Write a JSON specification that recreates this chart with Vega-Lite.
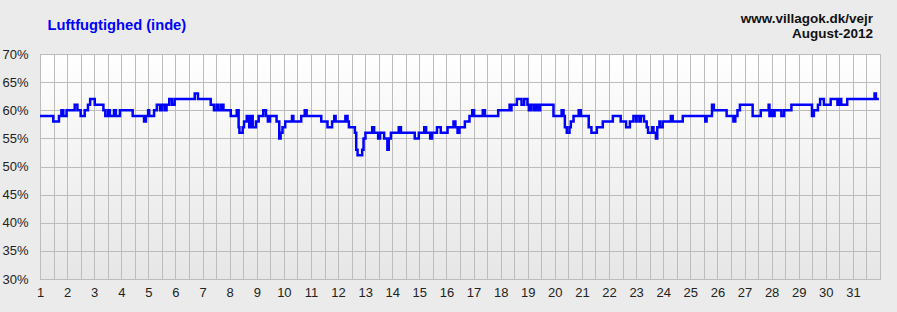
{
  "$schema": "https://vega.github.io/schema/vega-lite/v6.json",
  "width": 840,
  "height": 225,
  "autosize": {"type": "none"},
  "padding": {"left": 40, "top": 54, "right": 17, "bottom": 33},
  "background": "#ebebeb",
  "config": {
    "font": "Liberation Sans",
    "view": {
      "stroke": "#9a9a9a",
      "strokeWidth": 1,
      "fill": {"gradient": "linear", "x1": 0, "y1": 0, "x2": 0, "y2": 1, "stops": [{"offset": 0, "color": "#ffffff"}, {"offset": 1, "color": "#e6e6e6"}]}
    },
    "axis": {
      "title": null, "grid": true, "gridColor": "#bcbcbc", "gridWidth": 1, "gridOpacity": 1,
      "ticks": false, "domain": false, "labelFontSize": 13, "labelColor": "#222222",
      "labelOverlap": false, "labelFlush": false, "labelBound": false
    },
    "axisX": {"labelPadding": 7},
    "axisY": {"labelPadding": 12}
  },
  "layer": [
    {
      "data": {"values": [
        {"day": 1.00, "humidity": 59}, {"day": 1.49, "humidity": 58}, {"day": 1.70, "humidity": 59}, {"day": 1.79, "humidity": 60}, {"day": 1.86, "humidity": 59}, {"day": 1.98, "humidity": 60}, {"day": 2.28, "humidity": 61}, {"day": 2.38, "humidity": 60}, {"day": 2.50, "humidity": 59}, {"day": 2.65, "humidity": 60}, {"day": 2.77, "humidity": 61}, {"day": 2.85, "humidity": 62}, {"day": 3.02, "humidity": 61}, {"day": 3.34, "humidity": 60}, {"day": 3.41, "humidity": 59}, {"day": 3.51, "humidity": 60}, {"day": 3.58, "humidity": 59}, {"day": 3.73, "humidity": 60}, {"day": 3.80, "humidity": 59}, {"day": 3.95, "humidity": 60}, {"day": 4.42, "humidity": 59}, {"day": 4.84, "humidity": 58}, {"day": 4.91, "humidity": 59}, {"day": 4.99, "humidity": 60}, {"day": 5.03, "humidity": 59}, {"day": 5.21, "humidity": 60}, {"day": 5.31, "humidity": 61}, {"day": 5.43, "humidity": 60}, {"day": 5.50, "humidity": 61}, {"day": 5.60, "humidity": 60}, {"day": 5.67, "humidity": 61}, {"day": 5.77, "humidity": 62}, {"day": 5.87, "humidity": 61}, {"day": 5.97, "humidity": 62}, {"day": 6.71, "humidity": 63}, {"day": 6.83, "humidity": 62}, {"day": 7.30, "humidity": 61}, {"day": 7.42, "humidity": 60}, {"day": 7.52, "humidity": 61}, {"day": 7.59, "humidity": 60}, {"day": 7.69, "humidity": 61}, {"day": 7.77, "humidity": 60}, {"day": 8.04, "humidity": 59}, {"day": 8.26, "humidity": 60}, {"day": 8.33, "humidity": 57}, {"day": 8.36, "humidity": 56}, {"day": 8.48, "humidity": 57}, {"day": 8.53, "humidity": 58}, {"day": 8.63, "humidity": 59}, {"day": 8.72, "humidity": 57}, {"day": 8.80, "humidity": 59}, {"day": 8.85, "humidity": 57}, {"day": 8.97, "humidity": 58}, {"day": 9.07, "humidity": 59}, {"day": 9.24, "humidity": 60}, {"day": 9.34, "humidity": 59}, {"day": 9.41, "humidity": 58}, {"day": 9.49, "humidity": 59}, {"day": 9.73, "humidity": 58}, {"day": 9.83, "humidity": 55}, {"day": 9.88, "humidity": 56}, {"day": 9.95, "humidity": 57}, {"day": 10.05, "humidity": 58}, {"day": 10.30, "humidity": 59}, {"day": 10.35, "humidity": 58}, {"day": 10.64, "humidity": 59}, {"day": 10.77, "humidity": 60}, {"day": 10.84, "humidity": 59}, {"day": 11.38, "humidity": 58},
        {"day": 11.61, "humidity": 57}, {"day": 11.78, "humidity": 58}, {"day": 11.86, "humidity": 59}, {"day": 11.91, "humidity": 58}, {"day": 12.27, "humidity": 59}, {"day": 12.35, "humidity": 58}, {"day": 12.40, "humidity": 57}, {"day": 12.62, "humidity": 56}, {"day": 12.67, "humidity": 53}, {"day": 12.72, "humidity": 52}, {"day": 12.89, "humidity": 53}, {"day": 12.94, "humidity": 55}, {"day": 13.01, "humidity": 56}, {"day": 13.26, "humidity": 57}, {"day": 13.33, "humidity": 56}, {"day": 13.48, "humidity": 55}, {"day": 13.55, "humidity": 56}, {"day": 13.70, "humidity": 55}, {"day": 13.82, "humidity": 53}, {"day": 13.87, "humidity": 55}, {"day": 13.95, "humidity": 56}, {"day": 14.24, "humidity": 57}, {"day": 14.32, "humidity": 56}, {"day": 14.83, "humidity": 55}, {"day": 14.98, "humidity": 56}, {"day": 15.18, "humidity": 57}, {"day": 15.25, "humidity": 56}, {"day": 15.40, "humidity": 55}, {"day": 15.47, "humidity": 56}, {"day": 15.65, "humidity": 57}, {"day": 15.79, "humidity": 56}, {"day": 16.04, "humidity": 57}, {"day": 16.26, "humidity": 58}, {"day": 16.33, "humidity": 57}, {"day": 16.41, "humidity": 56}, {"day": 16.48, "humidity": 57}, {"day": 16.68, "humidity": 58}, {"day": 16.85, "humidity": 59}, {"day": 16.95, "humidity": 60}, {"day": 17.02, "humidity": 59}, {"day": 17.34, "humidity": 60}, {"day": 17.42, "humidity": 59}, {"day": 17.91, "humidity": 60}, {"day": 18.33, "humidity": 61}, {"day": 18.38, "humidity": 60}, {"day": 18.40, "humidity": 61}, {"day": 18.60, "humidity": 62}, {"day": 18.77, "humidity": 61}, {"day": 18.87, "humidity": 62}, {"day": 18.99, "humidity": 61}, {"day": 19.04, "humidity": 60}, {"day": 19.11, "humidity": 61}, {"day": 19.21, "humidity": 60}, {"day": 19.26, "humidity": 61}, {"day": 19.33, "humidity": 60}, {"day": 19.36, "humidity": 61}, {"day": 19.43, "humidity": 60}, {"day": 19.46, "humidity": 61}, {"day": 19.95, "humidity": 59}, {"day": 20.25, "humidity": 60}, {"day": 20.32, "humidity": 59}, {"day": 20.37, "humidity": 57}, {"day": 20.44, "humidity": 56}, {"day": 20.54, "humidity": 57}, {"day": 20.59, "humidity": 58}, {"day": 20.69, "humidity": 59}, {"day": 20.88, "humidity": 60}, {"day": 20.96, "humidity": 59}, {"day": 21.25, "humidity": 57}, {"day": 21.35, "humidity": 56}, {"day": 21.55, "humidity": 57},
        {"day": 21.77, "humidity": 58}, {"day": 22.14, "humidity": 59}, {"day": 22.43, "humidity": 58}, {"day": 22.63, "humidity": 57}, {"day": 22.77, "humidity": 58}, {"day": 22.90, "humidity": 59}, {"day": 23.00, "humidity": 58}, {"day": 23.02, "humidity": 59}, {"day": 23.12, "humidity": 58}, {"day": 23.17, "humidity": 59}, {"day": 23.29, "humidity": 58}, {"day": 23.39, "humidity": 57}, {"day": 23.44, "humidity": 56}, {"day": 23.59, "humidity": 57}, {"day": 23.64, "humidity": 56}, {"day": 23.73, "humidity": 55}, {"day": 23.78, "humidity": 57}, {"day": 23.86, "humidity": 58}, {"day": 23.88, "humidity": 57}, {"day": 23.98, "humidity": 58}, {"day": 24.28, "humidity": 59}, {"day": 24.35, "humidity": 58}, {"day": 24.72, "humidity": 59}, {"day": 25.55, "humidity": 58}, {"day": 25.60, "humidity": 59}, {"day": 25.80, "humidity": 61}, {"day": 25.87, "humidity": 60}, {"day": 26.34, "humidity": 59}, {"day": 26.59, "humidity": 58}, {"day": 26.66, "humidity": 59}, {"day": 26.74, "humidity": 60}, {"day": 26.83, "humidity": 61}, {"day": 27.30, "humidity": 59}, {"day": 27.60, "humidity": 60}, {"day": 27.89, "humidity": 61}, {"day": 27.92, "humidity": 59}, {"day": 27.99, "humidity": 60}, {"day": 28.06, "humidity": 59}, {"day": 28.11, "humidity": 60}, {"day": 28.36, "humidity": 59}, {"day": 28.46, "humidity": 60}, {"day": 28.73, "humidity": 61}, {"day": 29.49, "humidity": 59}, {"day": 29.56, "humidity": 60}, {"day": 29.71, "humidity": 61}, {"day": 29.79, "humidity": 62}, {"day": 29.93, "humidity": 61}, {"day": 30.18, "humidity": 62}, {"day": 30.43, "humidity": 61}, {"day": 30.50, "humidity": 62}, {"day": 30.57, "humidity": 61}, {"day": 30.79, "humidity": 62}, {"day": 31.80, "humidity": 63}, {"day": 31.85, "humidity": 62}, {"day": 31.96, "humidity": 62}
      ]},
      "mark": {"type": "line", "interpolate": "step-after", "color": "#0000ff", "strokeWidth": 2.5},
      "encoding": {
        "x": {
          "field": "day", "type": "quantitative",
          "scale": {"domain": [1, 32], "nice": false, "zero": false},
          "axis": {
            "values": [1,1.5,2,2.5,3,3.5,4,4.5,5,5.5,6,6.5,7,7.5,8,8.5,9,9.5,10,10.5,11,11.5,12,12.5,13,13.5,14,14.5,15,15.5,16,16.5,17,17.5,18,18.5,19,19.5,20,20.5,21,21.5,22,22.5,23,23.5,24,24.5,25,25.5,26,26.5,27,27.5,28,28.5,29,29.5,30,30.5,31,31.5,32],
            "labelExpr": "datum.value % 1 === 0 && datum.value < 32 ? '' + datum.value : ''"
          }
        },
        "y": {
          "field": "humidity", "type": "quantitative",
          "scale": {"domain": [30, 70], "nice": false, "zero": false},
          "axis": {
            "values": [30, 35, 40, 45, 50, 55, 60, 65, 70],
            "labelExpr": "datum.value + '%'"
          }
        }
      }
    },
    {
      "data": {"values": [{"label": "Luftfugtighed (inde)", "day": 1, "humidity": 70}]},
      "mark": {"type": "text", "align": "left", "baseline": "alphabetic", "dx": 7.5, "dy": -24.5, "fontSize": 14.7, "fontWeight": "bold", "color": "#0000ff", "font": "Liberation Sans"},
      "encoding": {
        "text": {"field": "label"},
        "x": {"field": "day", "type": "quantitative", "axis": {
            "values": [1,1.5,2,2.5,3,3.5,4,4.5,5,5.5,6,6.5,7,7.5,8,8.5,9,9.5,10,10.5,11,11.5,12,12.5,13,13.5,14,14.5,15,15.5,16,16.5,17,17.5,18,18.5,19,19.5,20,20.5,21,21.5,22,22.5,23,23.5,24,24.5,25,25.5,26,26.5,27,27.5,28,28.5,29,29.5,30,30.5,31,31.5,32],
            "labelExpr": "datum.value % 1 === 0 && datum.value < 32 ? '' + datum.value : ''"
          }},
        "y": {"field": "humidity", "type": "quantitative", "axis": {
            "values": [30, 35, 40, 45, 50, 55, 60, 65, 70],
            "labelExpr": "datum.value + '%'"
          }}
      }
    },
    {
      "data": {"values": [{"label": "www.villagok.dk/vejr", "day": 32, "humidity": 70}]},
      "mark": {"type": "text", "align": "right", "baseline": "alphabetic", "dx": -7, "dy": -31, "fontSize": 13.5, "fontWeight": "bold", "color": "#111111", "font": "Liberation Sans"},
      "encoding": {
        "text": {"field": "label"},
        "x": {"field": "day", "type": "quantitative", "axis": {
            "values": [1,1.5,2,2.5,3,3.5,4,4.5,5,5.5,6,6.5,7,7.5,8,8.5,9,9.5,10,10.5,11,11.5,12,12.5,13,13.5,14,14.5,15,15.5,16,16.5,17,17.5,18,18.5,19,19.5,20,20.5,21,21.5,22,22.5,23,23.5,24,24.5,25,25.5,26,26.5,27,27.5,28,28.5,29,29.5,30,30.5,31,31.5,32],
            "labelExpr": "datum.value % 1 === 0 && datum.value < 32 ? '' + datum.value : ''"
          }},
        "y": {"field": "humidity", "type": "quantitative", "axis": {
            "values": [30, 35, 40, 45, 50, 55, 60, 65, 70],
            "labelExpr": "datum.value + '%'"
          }}
      }
    },
    {
      "data": {"values": [{"label": "August-2012", "day": 32, "humidity": 70}]},
      "mark": {"type": "text", "align": "right", "baseline": "alphabetic", "dx": -7, "dy": -16, "fontSize": 13.5, "fontWeight": "bold", "color": "#111111", "font": "Liberation Sans"},
      "encoding": {
        "text": {"field": "label"},
        "x": {"field": "day", "type": "quantitative", "axis": {
            "values": [1,1.5,2,2.5,3,3.5,4,4.5,5,5.5,6,6.5,7,7.5,8,8.5,9,9.5,10,10.5,11,11.5,12,12.5,13,13.5,14,14.5,15,15.5,16,16.5,17,17.5,18,18.5,19,19.5,20,20.5,21,21.5,22,22.5,23,23.5,24,24.5,25,25.5,26,26.5,27,27.5,28,28.5,29,29.5,30,30.5,31,31.5,32],
            "labelExpr": "datum.value % 1 === 0 && datum.value < 32 ? '' + datum.value : ''"
          }},
        "y": {"field": "humidity", "type": "quantitative", "axis": {
            "values": [30, 35, 40, 45, 50, 55, 60, 65, 70],
            "labelExpr": "datum.value + '%'"
          }}
      }
    }
  ]
}
